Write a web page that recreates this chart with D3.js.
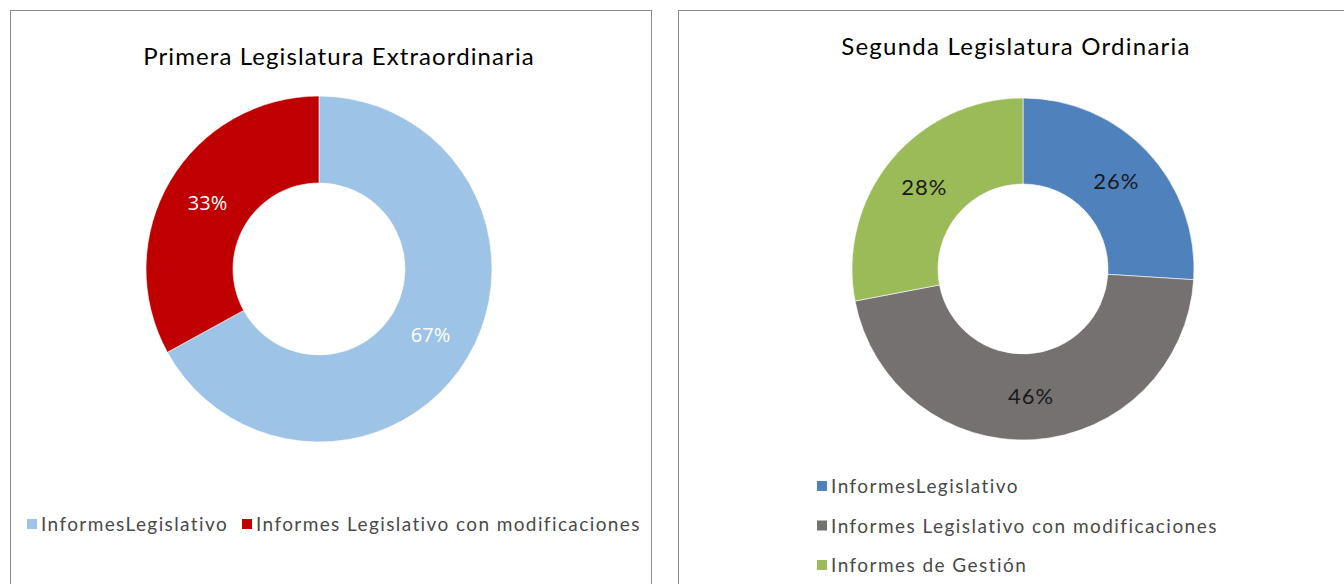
<!DOCTYPE html>
<html>
<head>
<meta charset="utf-8">
<script src="https://cdn.jsdelivr.net/npm/d3@7"></script>
<style>
  html, body { margin: 0; padding: 0; background: #fff; }
  svg { display: block; }
</style>
</head>
<body>
<svg id="plot"></svg>
<script>
// Chart data
const titles = ["Primera Legislatura Extraordinaria", "Segunda Legislatura Ordinaria"];
const leftCategories = ["InformesLegislativo", "Informes Legislativo con modificaciones"];
const leftValues = [67, 33];
const leftColors = ["#9dc3e6", "#c00000"];
const rightCategories = ["InformesLegislativo", "Informes Legislativo con modificaciones", "Informes de Gestión"];
const rightValues = [26, 46, 28];
const rightColors = ["#4f81bd", "#767171", "#9bbb59"];

const width = 1344;
const height = 584;
const font = "Lato, 'Open Sans', sans-serif";

const svg = d3.select("#plot")
    .attr("width", width)
    .attr("height", height)
    .attr("viewBox", [0, 0, width, height]);

// panel frames
svg.append("rect")
    .attr("x", 10.5).attr("y", 10.5)
    .attr("width", 641).attr("height", 600)
    .attr("fill", "none").attr("stroke", "#8c8c8c");
svg.append("rect")
    .attr("x", 678.5).attr("y", 10.5)
    .attr("width", 700).attr("height", 600)
    .attr("fill", "none").attr("stroke", "#8c8c8c");

function donut(opts) {
  const {cx, cy, outer, inner, categories, values, colors, labelFill, labelFont, labelSize, labelSpacing, title, titleX, titleY, titleSpacing} = opts;
  const color = d3.scaleOrdinal(categories, colors);
  const pie = d3.pie().sort(null).value(d => d.value);
  const arc = d3.arc().innerRadius(inner).outerRadius(outer);
  const mid = (inner + outer) / 2;
  const labelArc = d3.arc().innerRadius(mid).outerRadius(mid);
  const total = d3.sum(values);
  const data = categories.map((c, i) => ({name: c, value: values[i]}));

  svg.append("text")
      .attr("x", titleX).attr("y", titleY)
      .attr("text-anchor", "middle")
      .attr("font-family", font)
      .attr("font-size", 24)
      .attr("letter-spacing", titleSpacing)
      .attr("fill", "#000")
      .text(title);

  const g = svg.append("g").attr("transform", `translate(${cx},${cy})`);
  const arcs = pie(data);

  g.selectAll("path")
    .data(arcs)
    .join("path")
      .attr("d", arc)
      .attr("fill", d => color(d.data.name))
      .attr("stroke", "#fff")
      .attr("stroke-width", 0.6);

  g.selectAll("text")
    .data(arcs)
    .join("text")
      .attr("transform", d => `translate(${labelArc.centroid(d)})`)
      .attr("text-anchor", "middle")
      .attr("dy", "0.35em")
      .attr("font-family", labelFont)
      .attr("font-size", labelSize)
      .attr("letter-spacing", labelSpacing)
      .attr("fill", labelFill)
      .text(d => `${Math.round(d.data.value / total * 100)}%`);

  return color;
}

const leftColor = donut({
  cx: 319, cy: 269, outer: 173, inner: 86,
  categories: leftCategories, values: leftValues, colors: leftColors,
  labelFill: "#fff", labelFont: "'Open Sans', sans-serif", labelSize: 20, labelSpacing: 0,
  title: titles[0], titleX: 339, titleY: 65, titleSpacing: 1.1
});

const rightColor = donut({
  cx: 1023, cy: 269, outer: 171, inner: 85,
  categories: rightCategories, values: rightValues, colors: rightColors,
  labelFill: "#1a1a1a", labelFont: font, labelSize: 22, labelSpacing: 1,
  title: titles[1], titleX: 1016, titleY: 55, titleSpacing: 1.25
});

// left legend: horizontal
const legL = svg.append("g").attr("font-family", font).attr("font-size", 19)
    .attr("letter-spacing", 1.4).attr("fill", "#4a4a4a");
const legLx = [27, 242];
legL.selectAll("rect")
  .data(leftCategories)
  .join("rect")
    .attr("x", (d, i) => legLx[i]).attr("y", 519)
    .attr("width", 10).attr("height", 10)
    .attr("fill", d => leftColor(d));
legL.selectAll("text")
  .data(leftCategories)
  .join("text")
    .attr("x", (d, i) => legLx[i] + 14).attr("y", 531)
    .text(d => d);

// right legend: vertical
const legR = svg.append("g").attr("font-family", font).attr("font-size", 19)
    .attr("letter-spacing", 1.45).attr("fill", "#4a4a4a");
legR.selectAll("rect")
  .data(rightCategories)
  .join("rect")
    .attr("x", 817).attr("y", (d, i) => 481 + i * 39.5)
    .attr("width", 10).attr("height", 10)
    .attr("fill", d => rightColor(d));
legR.selectAll("text")
  .data(rightCategories)
  .join("text")
    .attr("x", 831).attr("y", (d, i) => 493 + i * 39.5)
    .text(d => d);
</script>
</body>
</html>
